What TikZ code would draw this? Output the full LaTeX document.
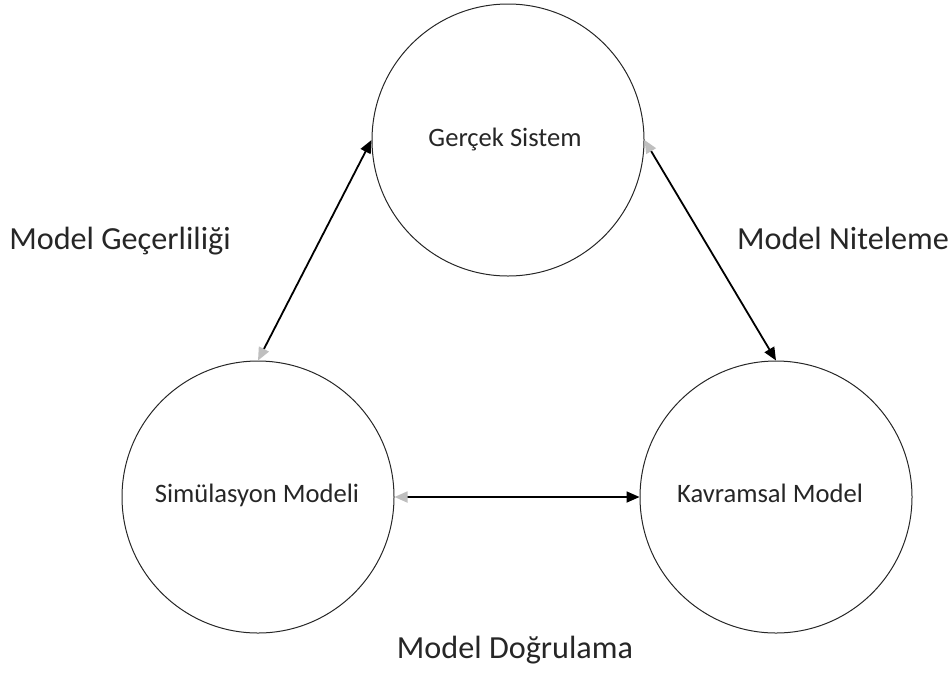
\documentclass[tikz,border=0pt]{standalone}
\usepackage{fontspec}
\setmainfont{Carlito}
\usetikzlibrary{arrows.meta}
\begin{document}
\begin{tikzpicture}[x=1pt,y=-1pt,
  circ/.style={draw=black!85,circle,minimum size=272pt,inner sep=0pt,line width=1pt},
  ctext/.style={anchor=base,font=\fontsize{26.6}{30}\selectfont,text=black!85},
  lbl/.style={anchor=base,font=\fontsize{32.2}{36}\selectfont,text=black!85},
  conn/.style={line width=1.8pt,{Triangle[length=13pt,width=11pt,color=black!25]}-{Triangle[length=13pt,width=11pt]}}]
\useasboundingbox (0,0) rectangle (952,673);
\node[circ] (gs) at (508,140) {};
\node[circ] (sm) at (258,497) {};
\node[circ] (km) at (776,497) {};
\node[ctext] (gst) at (505,146) {Gerçek Sistem};
\node[ctext] (smt) at (257,502) {Simülasyon Modeli};
\node[ctext] (kmt) at (770,502) {Kavramsal Model};
\draw[conn] (sm.north) -- (gs.west);
\draw[conn] (gs.east) -- (km.north);
\draw[conn] (sm.east) -- (km.west);
\node[lbl] (l1) at (120,249) {Model Geçerliliği};
\node[lbl] (l2) at (843,249) {Model Niteleme};
\node[lbl] (l3) at (515,658) {Model Doğrulama};
\end{tikzpicture}
\end{document}
